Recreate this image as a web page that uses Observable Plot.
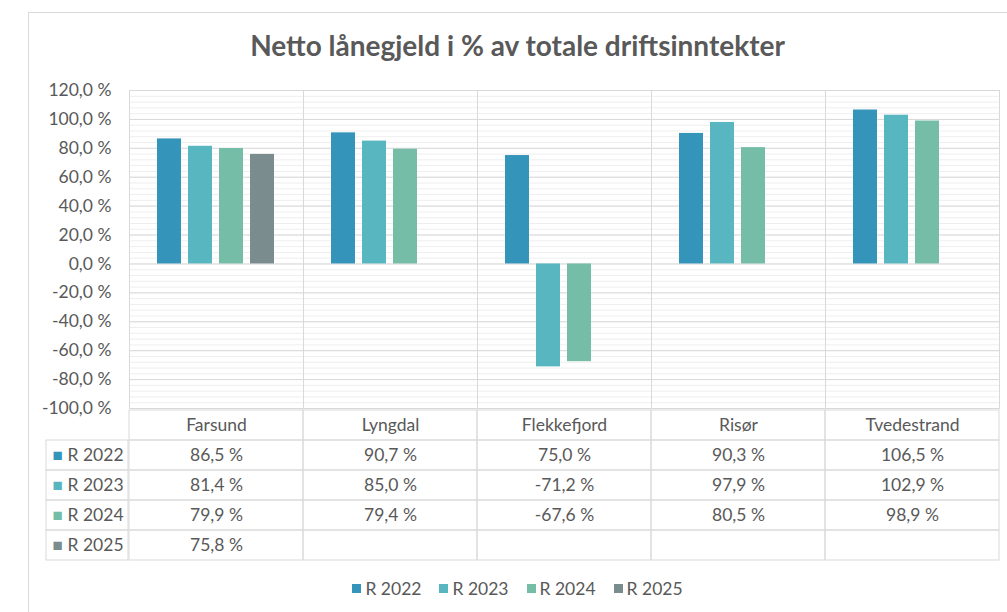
<!DOCTYPE html>
<html><head><meta charset="utf-8">
<script src="https://cdn.jsdelivr.net/npm/d3@7"></script>
<script src="https://cdn.jsdelivr.net/npm/@observablehq/plot@0.6"></script>
<style>
body{margin:0;background:#fff;font-family:Lato,"Open Sans",sans-serif;color:#595959;}
#root{position:relative;width:1007px;height:612px;overflow:hidden;background:#fff;}
.abs{position:absolute;}
#border{left:28px;top:12px;width:1010px;height:700px;border:1px solid #d9d9d9;box-sizing:border-box;}
#title{left:28px;width:979px;top:28px;text-align:center;font-size:28px;font-weight:700;color:#595959;line-height:34px;}
#legend{left:28px;width:979px;top:572px;}
#legend span{margin-right:18px;}
#legend span:last-child{margin-right:0;}
#legend svg{margin-right:4px;}
svg{overflow:visible;}
</style></head>
<body>
<div id="root">
  <div id="border" class="abs"></div>
  <div id="title" class="abs">Netto lånegjeld i % av totale driftsinntekter</div>
  <div id="chart" class="abs" style="left:0;top:0"></div>
  <div id="table" class="abs" style="left:0;top:408px"></div>
  <div id="rowlabels" class="abs" style="left:46px;top:438px"></div>
  <div id="legend" class="abs"></div>
</div>
<script>
const categories = ["Farsund", "Lyngdal", "Flekkefjord", "Risør", "Tvedestrand"];
const seriesNames = ["R 2022", "R 2023", "R 2024", "R 2025"];
const r2022 = [86.5, 90.7, 75.0, 90.3, 106.5];
const r2023 = [81.4, 85.0, -71.2, 97.9, 102.9];
const r2024 = [79.9, 79.4, -67.6, 80.5, 98.9];
const r2025 = [75.8, null, null, null, null];
const seriesColors = ["#3494BA", "#58B6C0", "#75BDA7", "#7A8C8E"];
const yTicks = [-100, -80, -60, -40, -20, 0, 20, 40, 60, 80, 100, 120];
const yMinorStep = 4;

const seriesValues = [r2022, r2023, r2024, r2025];
const rows = categories.flatMap((c, i) => seriesNames.map((s, j) => ({category: c, series: s, value: seriesValues[j][i]})))
  .filter(d => d.value != null);
const yMinor = d3.range(yTicks[0], yTicks[yTicks.length - 1] + 0.001, yMinorStep);
const fmt = v => v.toFixed(1).replace(".", ",") + " %";
const textColor = "#595959";
const gridColor = "#d9d9d9";
const font = "Lato, 'Open Sans', sans-serif";
const fs = 17.5;

const chart = Plot.plot({
  width: 1007, height: 418,
  marginTop: 90, marginBottom: 10, marginLeft: 128, marginRight: 8,
  style: {fontFamily: font, fontSize: fs + "px", color: textColor, background: "transparent", overflow: "visible"},
  fx: {domain: categories, padding: 0, axis: null, label: null},
  x: {domain: seriesNames, paddingInner: 0.21, paddingOuter: 0.865, axis: null},
  y: {domain: [yTicks[0], yTicks[yTicks.length - 1]], label: null},
  color: {domain: seriesNames, range: seriesColors},
  marks: [
    Plot.ruleY(yMinor, {stroke: "#eeeeee"}),
    Plot.ruleY(yTicks, {stroke: gridColor}),
    Plot.frame({stroke: gridColor}),
    Plot.barY(rows, {fx: "category", x: "series", y: "value", fill: "series"}),
    Plot.axisY({ticks: yTicks, tickSize: 0, tickPadding: 18, tickFormat: fmt, fontSize: fs, label: null})
  ]
});
document.getElementById("chart").append(chart);

const headerKey = "__header";
const rowKeys = [headerKey, ...seriesNames];
const grid = categories.flatMap(c => rowKeys.map(r => ({category: c, row: r})));
const table = Plot.plot({
  width: 1007, height: 153,
  marginTop: 0, marginBottom: 0, marginLeft: 128, marginRight: 8,
  style: {fontFamily: font, fontSize: fs + "px", color: textColor, background: "transparent", overflow: "visible"},
  x: {domain: categories, padding: 0, axis: null},
  y: {domain: rowKeys, padding: 0, axis: null},
  marks: [
    Plot.cell(grid, {x: "category", y: "row", fill: "none", stroke: gridColor}),
    Plot.text(categories, {x: d => d, y: () => headerKey, fontSize: fs}),
    Plot.text(rows, {x: "category", y: "series", text: d => fmt(d.value), fontSize: fs})
  ]
});
document.getElementById("table").append(table);

const rowLabels = Plot.plot({
  width: 82, height: 123,
  marginTop: 0, marginBottom: 0, marginLeft: 0, marginRight: 0,
  style: {fontFamily: font, fontSize: fs + "px", color: textColor, background: "transparent", overflow: "visible"},
  y: {domain: seriesNames, padding: 0, axis: null},
  color: {domain: seriesNames, range: seriesColors},
  marks: [
    Plot.cell(seriesNames, {y: d => d, fill: "none", stroke: gridColor}),
    Plot.text(seriesNames, {y: d => d, text: () => "■", fill: d => d, frameAnchor: "left", dx: 6, textAnchor: "start", fontSize: 17}),
    Plot.text(seriesNames, {y: d => d, text: d => d, frameAnchor: "left", dx: 21, textAnchor: "start", fontSize: fs})
  ]
});
document.getElementById("rowlabels").append(rowLabels);

const legend = Plot.legend({
  color: {domain: seriesNames, range: seriesColors},
  legend: "swatches", swatchSize: 9,
  style: {fontFamily: font, fontSize: fs + "px", color: textColor}
});
legend.style.justifyContent = "center";
legend.style.marginLeft = "0";
document.getElementById("legend").append(legend);
</script>
</body></html>
